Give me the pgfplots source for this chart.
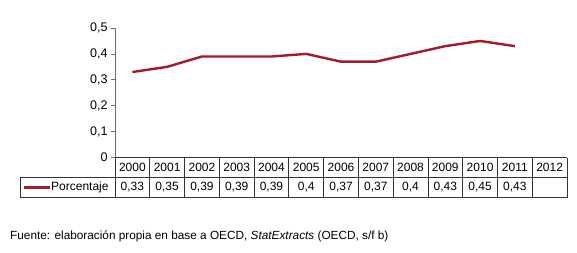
\documentclass[border=0pt]{standalone}
\usepackage{pgfplots}
\pgfplotsset{compat=1.18}
\usepackage{fontspec}
\setmainfont{Liberation Sans}
\definecolor{serie}{RGB}{165,25,45}
\definecolor{axisgray}{RGB}{110,110,110}
\begin{document}
\begin{tikzpicture}[x=1pt,y=-1pt]
\fill[white] (0,0) rectangle (577,252);
\begin{axis}[
  at={(115pt,-157.5pt)}, anchor=south west,
  scale only axis, width=452pt, height=129.5pt,
  xmin=-0.5, xmax=12.5, ymin=0, ymax=0.5,
  axis x line=none,
  axis y line*=left,
  axis line style={axisgray, line width=0.8pt},
  y axis line style={-},
  ytick={0,0.1,0.2,0.3,0.4,0.5},
  tick align=outside, major tick length=4pt,
  tick style={axisgray, line width=0.8pt},
  yticklabel style={font=\fontsize{12.5}{14}\selectfont, /pgf/number format/.cd, fixed, precision=1, use comma, assume math mode=true},
  clip=false,
]
\addplot[serie, line width=2.4pt, line join=round] coordinates {
 (0,0.33) (1,0.35) (2,0.39) (3,0.39) (4,0.39) (5,0.40) (6,0.37) (7,0.37) (8,0.40) (9,0.43) (10,0.45) (11,0.43)
};
\end{axis}
% data table below the axis
\def\cw{34.77}
\draw[black!80, line width=0.8pt] (115,157.5) -- (567,157.5);
\draw[black!80, line width=0.8pt] (20.7,177) -- (567,177);
\draw[black!80, line width=0.8pt] (20.7,197.7) -- (567,197.7);
\draw[black!80, line width=0.8pt] (20.7,177) -- (20.7,197.7);
\foreach \i in {0,...,13} {
  \draw[black!80, line width=0.8pt] ({115+\cw*\i},157.5) -- ({115+\cw*\i},197.7);
}
\foreach \yr [count=\i from 0] in {2000,2001,2002,2003,2004,2005,2006,2007,2008,2009,2010,2011,2012} {
  \node[font=\fontsize{12}{14}\selectfont, inner sep=0pt] at ({115+\cw*(\i+0.5)},167.5) {\yr};
}
\foreach \v [count=\i from 0] in {{0,33},{0,35},{0,39},{0,39},{0,39},{0,4},{0,37},{0,37},{0,4},{0,43},{0,45},{0,43}} {
  \node[font=\fontsize{12}{14}\selectfont, inner sep=0pt] at ({115+\cw*(\i+0.5)},187.5) {\v};
}
\draw[serie, line width=3pt] (24,187.5) -- (49.5,187.5);
\node[font=\fontsize{12}{14}\selectfont, inner sep=0pt, anchor=west] at (51,187.5) {Porcentaje};
\node[font=\fontsize{11.8}{13}\selectfont, inner sep=0pt, anchor=west] at (10,236.5) {Fuente: elaboración propia en base a OECD, \textit{StatExtracts} (OECD, s/f b)};
\end{tikzpicture}
\end{document}
